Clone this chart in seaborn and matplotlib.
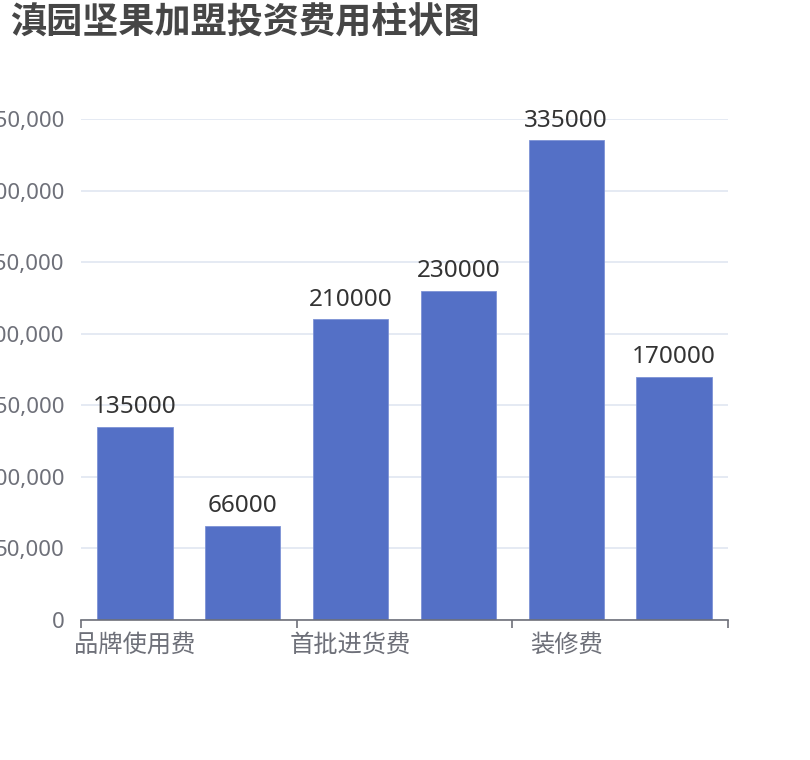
import matplotlib
matplotlib.use("Agg")
import matplotlib.pyplot as plt
import matplotlib.ticker as mticker
import seaborn as sns
import pandas as pd

# 费用项目（只有隔一个的标签显示在坐标轴上）
categories = ["品牌使用费", "保证金", "首批进货费", "设备费", "装修费", "流动资金"]
costs = [135000, 66000, 210000, 230000, 335000, 170000]
shown_labels = ["品牌使用费", "", "首批进货费", "", "装修费", ""]
y_ticks = [0, 50000, 100000, 150000, 200000, 250000, 300000, 350000]

sns.set_theme(style="white")
plt.rcParams['font.family'] = ['Noto Sans', 'Noto Sans CJK SC', 'DejaVu Sans']

df = pd.DataFrame({"项目": categories, "费用": costs})

fig = plt.figure(figsize=(8.1, 7.6), dpi=100)
ax = fig.add_axes([81 / 810, 1 - 620 / 760, (728 - 81) / 810, (620 - 119) / 760])

sns.barplot(data=df, x="项目", y="费用", color="#5470c6", saturation=1,
            width=0.7, edgecolor="#7d92d6", linewidth=0.6, ax=ax)

for i, v in enumerate(costs):
    ax.annotate(str(v), (i, v), xytext=(0, 5.5), textcoords="offset points",
                ha="center", va="bottom", fontsize=17.5, color="#333333")

ax.set_ylim(0, 350000)
ax.set_xlim(-0.5, len(categories) - 0.5)
ax.set_yticks(y_ticks)
ax.yaxis.set_major_formatter(mticker.FuncFormatter(lambda v, p: f"{int(v):,}"))
ax.grid(axis="y", color="#E0E6F1", linewidth=1.2)
ax.set_axisbelow(True)
ax.tick_params(axis="y", length=0, pad=12, labelsize=16, labelcolor="#6E7079")

# 刻度线在每两个柱子之间的边界，标签在柱子中心
ax.set_xticks([-0.5, 1.5, 3.5, 5.5])
ax.set_xticklabels([])
ax.set_xticks(range(len(categories)), minor=True)
ax.set_xticklabels(shown_labels, minor=True)
ax.tick_params(axis="x", which="major", length=6, width=1.2, color="#6E7079", direction="out")
ax.tick_params(axis="x", which="minor", length=0, pad=10, labelsize=17.5, labelcolor="#6E7079")
ax.xaxis.set_ticks_position("bottom")

for s in ["top", "right", "left"]:
    ax.spines[s].set_visible(False)
ax.spines["bottom"].set_color("#6E7079")
ax.spines["bottom"].set_linewidth(1.2)
ax.set_xlabel("")
ax.set_ylabel("")

fig.text(10 / 810, 1 - 25 / 760, "滇园坚果加盟投资费用柱状图", fontsize=26, fontweight="bold",
         color="#464646", ha="left", va="center")

fig.savefig("out.png", dpi=100)
